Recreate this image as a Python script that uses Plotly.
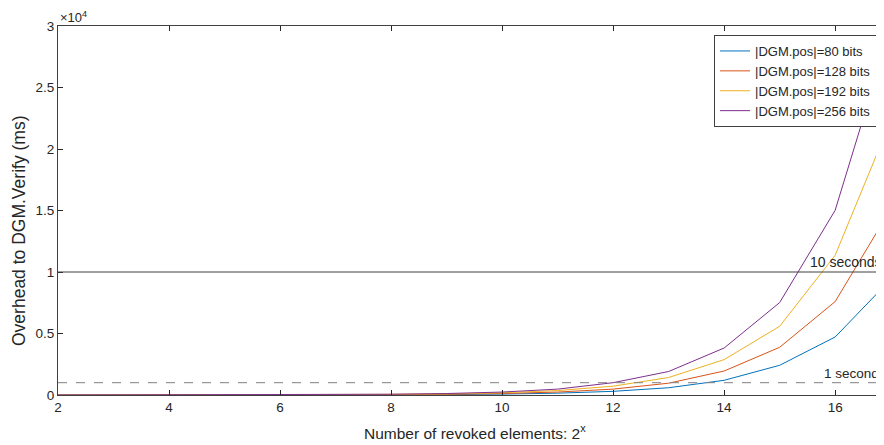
import plotly.graph_objects as go

x_exp = [2, 3, 4, 5, 6, 7, 8, 9, 10, 11, 12, 13, 14, 15, 16, 17]
pos80 = [0.3, 0.6, 1.2, 2.3, 4.7, 9.3, 19, 37, 75, 150, 298, 590, 1195, 2415, 4715, 9400]
pos128 = [0.5, 1, 1.9, 3.7, 7.5, 15, 30, 60, 120, 240, 478, 960, 1951, 3878, 7593, 15100]
pos192 = [0.7, 1.4, 2.8, 5.6, 11, 22, 45, 90, 180, 360, 718, 1420, 2878, 5585, 11358, 22300]
pos256 = [0.9, 1.9, 3.7, 7.5, 15, 30, 60, 120, 240, 478, 1000, 1910, 3821, 7512, 15016, 29800]

series_names = ["|DGM.pos|=80 bits", "|DGM.pos|=128 bits", "|DGM.pos|=192 bits", "|DGM.pos|=256 bits"]
series_vals = [pos80, pos128, pos192, pos256]
colors = ["#0072BD", "#D95319", "#EDB120", "#7E2F8E"]

x_ticks = [2, 4, 6, 8, 10, 12, 14, 16]
y_ticks = [0, 5000, 10000, 15000, 20000, 25000, 30000]
y_ticktext = ["0", "0.5", "1", "1.5", "2", "2.5", "3"]

ten_sec = 10000
one_sec = 1000

FONT = "Liberation Sans, Arial, sans-serif"
AX = "#262626"

# page body has an 8px margin: figure is placed at (8, 8) in the 884x445 window
W, H = 876, 437
L, T, B = 50, 18, 50
PW = W - L
PH = H - T - B

fig = go.Figure()
for name, vals, c in zip(series_names, series_vals, colors):
    fig.add_trace(go.Scatter(x=x_exp, y=vals, mode="lines", name=name,
                             line=dict(color=c, width=1)))

fig.add_shape(type="line", xref="x", yref="y", x0=2, x1=20, y0=ten_sec, y1=ten_sec,
              line=dict(color="#404040", width=1))
fig.add_shape(type="line", xref="x", yref="y", x0=2, x1=20, y0=one_sec, y1=one_sec,
              line=dict(color="#808080", width=1, dash="dash"))

fig.add_annotation(x=15.51, y=ten_sec, xref="x", yref="y", text="10 seconds",
                   showarrow=False, xanchor="left", yanchor="bottom",
                   font=dict(family=FONT, size=14, color=AX))
fig.add_annotation(x=15.77, y=one_sec, xref="x", yref="y", text="1 second",
                   showarrow=False, xanchor="left", yanchor="bottom",
                   font=dict(family=FONT, size=13.5, color=AX))

fig.add_annotation(x=0.0, y=1.0, xref="paper", yref="paper", text="\u00d710<sup>4</sup>",
                   showarrow=False, xanchor="left", yanchor="bottom", yshift=-1,
                   font=dict(family=FONT, size=13, color=AX))

# x-axis title
fig.add_annotation(x=(467 - L) / PW, y=-37 / PH, xref="paper", yref="paper",
                   text="Number of revoked elements: 2<sup>x</sup>", showarrow=False,
                   xanchor="center", yanchor="middle",
                   font=dict(family=FONT, size=15.5, color=AX))
# y-axis title
fig.add_annotation(x=(11 - L) / PW, y=(387 - 223) / PH, xref="paper", yref="paper",
                   text="Overhead to DGM.Verify (ms)", showarrow=False, textangle=-90,
                   xanchor="center", yanchor="middle",
                   font=dict(family=FONT, size=17.5, color=AX))

fig.update_layout(
    width=W, height=H,
    margin=dict(l=L, r=0, t=T, b=B, autoexpand=False),
    paper_bgcolor="white", plot_bgcolor="white",
    font=dict(family=FONT, size=13, color=AX),
    showlegend=True,
    legend=dict(x=(869 - L) / PW, y=(387 - 27) / PH, xanchor="right", yanchor="top",
                bgcolor="white", bordercolor="#404040", borderwidth=1,
                font=dict(family=FONT, size=13, color=AX),
                tracegroupgap=0, itemwidth=30),
)
fig.update_xaxes(range=[2, 16.88], tickvals=x_ticks, ticks="inside", ticklen=5,
                 tickcolor=AX, showline=True, linecolor="#404040", linewidth=1,
                 mirror="ticks", showgrid=False, zeroline=False, automargin=False,
                 tickfont=dict(family=FONT, size=13.5, color=AX))
fig.update_yaxes(range=[0, 30000], tickvals=y_ticks, ticktext=y_ticktext, ticks="inside",
                 ticklen=5, tickcolor=AX, showline=True, linecolor="#404040", linewidth=1,
                 mirror="ticks", showgrid=False, zeroline=False, automargin=False,
                 tickfont=dict(family=FONT, size=13.5, color=AX))

fig.write_html("out.html")
